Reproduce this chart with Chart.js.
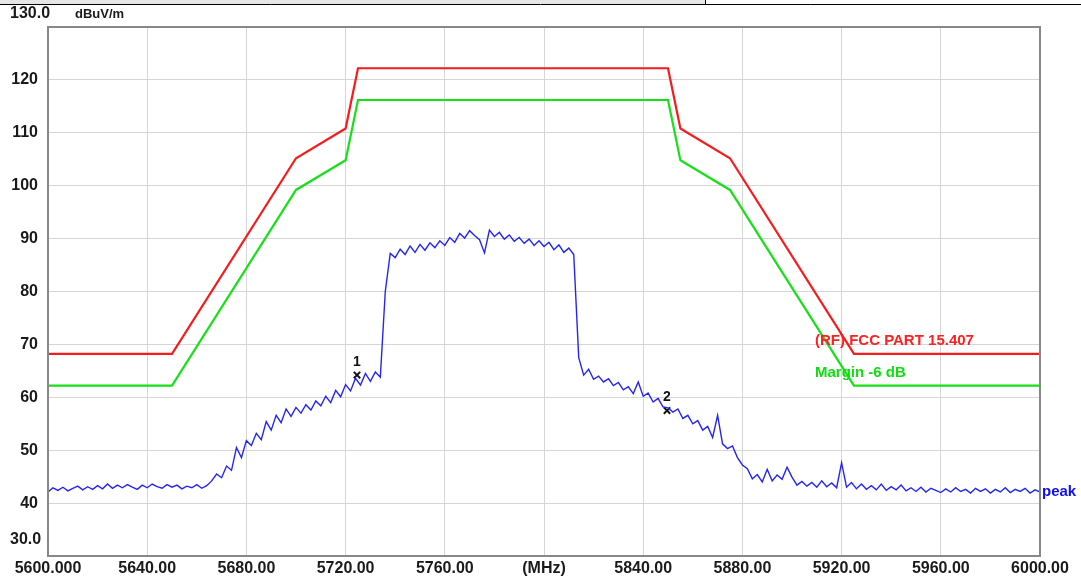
<!DOCTYPE html>
<html>
<head>
<meta charset="utf-8">
<script src="https://cdn.jsdelivr.net/npm/chart.js@4.4.1/dist/chart.umd.min.js"></script>
<style>
  body { margin: 0; background: #fff; }
  #wrap { width: 1081px; height: 578px; }
</style>
</head>
<body>
<div id="wrap"><canvas id="chart" width="1081" height="578"></canvas></div>
<script>
// limit line corners (MHz / dBuV/m)
const limitFreq = [5600, 5650, 5700, 5720, 5725, 5850, 5855, 5875, 5925, 6000];
const limitLevel = [68.2, 68.2, 105.2, 110.8, 122.2, 122.2, 110.8, 105.2, 68.2, 68.2];
const marginLevel = [62.2, 62.2, 99.2, 104.8, 116.2, 116.2, 104.8, 99.2, 62.2, 62.2];

// peak trace, read every 2 MHz from 5600 to 6000
const traceStart = 5600;
const traceStep = 2;
const peakLevel = [
  42.1, 42.9, 42.4, 43.0, 42.3, 42.8, 43.2, 42.5, 43.1, 42.6,
  43.3, 42.7, 43.6, 42.8, 43.4, 42.9, 43.5, 43.0, 42.6, 43.4,
  42.9, 43.6, 43.1, 42.8, 43.5, 43.0, 43.4, 42.7, 43.2, 42.9,
  43.5, 42.8, 43.3, 44.2, 45.5, 44.8, 47.0, 46.2, 50.5, 48.6,
  51.8, 50.9, 53.2, 52.0, 55.4, 53.8, 56.6, 55.2, 57.8, 56.4,
  58.1, 57.0, 58.6, 57.6, 59.3, 58.4, 60.2, 59.0, 61.3, 60.1,
  62.4, 61.2, 63.6, 62.3, 64.5, 63.0, 64.8, 63.8, 80.0, 87.2,
  86.4, 88.0, 87.0, 88.6, 87.4, 88.9, 87.8, 89.2, 88.3, 89.6,
  88.7, 90.2, 89.3, 91.0, 90.1, 91.5, 90.6, 89.8, 87.3, 91.6,
  90.4, 91.2, 89.9, 90.7, 89.5, 90.2, 89.1, 89.9, 88.7, 89.6,
  88.5, 89.3, 87.9, 88.8, 87.4, 88.2, 87.0, 67.5, 64.2, 65.3,
  63.4, 64.0, 62.9, 63.5, 62.2, 62.8, 61.4, 62.0, 60.7, 62.9,
  60.2, 60.8, 59.1, 59.8, 58.2, 58.0, 57.2, 57.8, 56.0, 56.6,
  55.0, 55.6, 53.8, 54.5, 52.4, 56.6, 51.2, 50.3, 50.8, 48.6,
  47.2, 46.5, 44.6, 45.4, 44.0, 46.4, 44.2, 45.3, 44.5, 46.8,
  44.9, 43.4, 44.1, 43.2, 43.9, 43.0, 44.2, 43.1, 43.8, 42.9,
  47.6, 43.0, 43.9, 42.7, 43.6, 42.6, 43.3, 42.5, 43.6, 42.4,
  43.1, 42.5, 43.4, 42.3, 42.9, 42.2, 43.0, 42.1, 42.8, 42.4,
  42.0, 42.7, 42.1, 42.9, 42.2, 42.6, 41.9, 42.8, 42.2, 42.7,
  41.9, 42.6, 42.1, 42.9, 42.0, 42.6, 42.2, 42.8, 41.9, 42.5,
  42.1
];

// markers
const markerNames = ['1', '2'];
const markerFreq = [5724.6, 5849.6];
const markerLevel = [64.2, 57.5];

const yTicks = [30, 40, 50, 60, 70, 80, 90, 100, 110, 120, 130];
const xTicks = [5600, 5640, 5680, 5720, 5760, 5800, 5840, 5880, 5920, 5960, 6000];

const FONT = '"Liberation Sans", Arial, sans-serif';

const limitData = limitFreq.map((f, i) => ({x: f, y: limitLevel[i]}));
const marginData = limitFreq.map((f, i) => ({x: f, y: marginLevel[i]}));
const peakData = peakLevel.map((v, i) => ({x: traceStart + i * traceStep, y: v}));
const markerData = markerFreq.map((f, i) => ({x: f, y: markerLevel[i]}));

const decorPlugin = {
  id: 'decor',
  beforeDraw(chart) {
    const c = chart.ctx;
    // screenshot strip at the very top
    c.save();
    c.fillStyle = '#e6e6e6';
    c.fillRect(0, 0, 705, 4);
    c.strokeStyle = '#000';
    c.lineWidth = 1;
    c.beginPath();
    c.moveTo(0, 4.5); c.lineTo(1081, 4.5);
    c.moveTo(705.5, 0); c.lineTo(705.5, 5);
    c.stroke();
    c.restore();
  },
  afterDraw(chart) {
    const c = chart.ctx;
    const a = chart.chartArea;
    const xs = chart.scales.x, ys = chart.scales.y;
    c.save();
    c.strokeStyle = '#888';
    c.lineWidth = 2;
    c.strokeRect(a.left, a.top, a.right - a.left, a.bottom - a.top);

    c.fillStyle = '#1a1a1a';
    c.font = 'bold 16px ' + FONT;
    c.textBaseline = 'middle';
    c.textAlign = 'left';
    c.fillText('130.0', 10, 14);
    c.fillText('30.0', 10, 540);
    c.font = 'bold 13px ' + FONT;
    c.fillText('dBuV/m', 75, 14);

    // limit labels
    c.font = 'bold 15px ' + FONT;
    c.fillStyle = '#ff2020';
    c.fillText('(RF) FCC PART 15.407', 815, 341);
    c.fillStyle = '#10dd10';
    c.fillText('Margin -6 dB', 815, 373);
    c.fillStyle = '#1010ee';
    c.fillText('peak', a.right + 2, ys.getPixelForValue(42.2));

    // marker numbers
    c.fillStyle = '#111';
    c.font = 'bold 14px ' + FONT;
    c.textAlign = 'center';
    markerNames.forEach((n, i) => {
      c.fillText(n, xs.getPixelForValue(markerFreq[i]), ys.getPixelForValue(markerLevel[i]) - 13);
    });
    c.restore();
  }
};

new Chart(document.getElementById('chart'), {
  type: 'line',
  data: {
    datasets: [
      {data: peakData, borderColor: '#2626f2', borderWidth: 1.4, pointRadius: 0, tension: 0},
      {data: limitData, borderColor: '#f41c1c', borderWidth: 2.2, pointRadius: 0},
      {data: marginData, borderColor: '#18e018', borderWidth: 2.2, pointRadius: 0},
      {data: markerData, showLine: false, pointStyle: 'crossRot', pointRadius: 4.5,
        borderColor: '#111', borderWidth: 2}
    ]
  },
  options: {
    responsive: false,
    animation: false,
    layout: {padding: {top: 27, right: 41, left: 0, bottom: 0}},
    plugins: {legend: {display: false}, tooltip: {enabled: false}},
    scales: {
      x: {
        type: 'linear',
        min: 5600,
        max: 6000,
        afterBuildTicks: (s) => { s.ticks = xTicks.map(v => ({value: v})); },
        afterFit: (s) => { s.height = 22; },
        grid: {color: '#d6d6d6', drawTicks: false},
        border: {color: '#888', width: 2},
        ticks: {
          padding: 3,
          maxRotation: 0,
          autoSkip: false,
          color: '#1a1a1a',
          font: {family: FONT, size: 16, weight: 'bold'},
          callback: (v) => v === 5600 ? '5600.000' : v === 5800 ? '(MHz)' : v.toFixed(2)
        }
      },
      y: {
        min: 30,
        max: 130,
        afterBuildTicks: (s) => { s.ticks = yTicks.map(v => ({value: v})); },
        afterFit: (s) => { s.width = 48; },
        grid: {color: '#d6d6d6', drawTicks: false},
        border: {color: '#888', width: 2},
        ticks: {
          padding: 10,
          color: '#1a1a1a',
          font: {family: FONT, size: 16, weight: 'bold'},
          callback: (v) => (v === 30 || v === 130) ? '' : String(v)
        }
      }
    }
  },
  plugins: [decorPlugin]
});
</script>
</body>
</html>
